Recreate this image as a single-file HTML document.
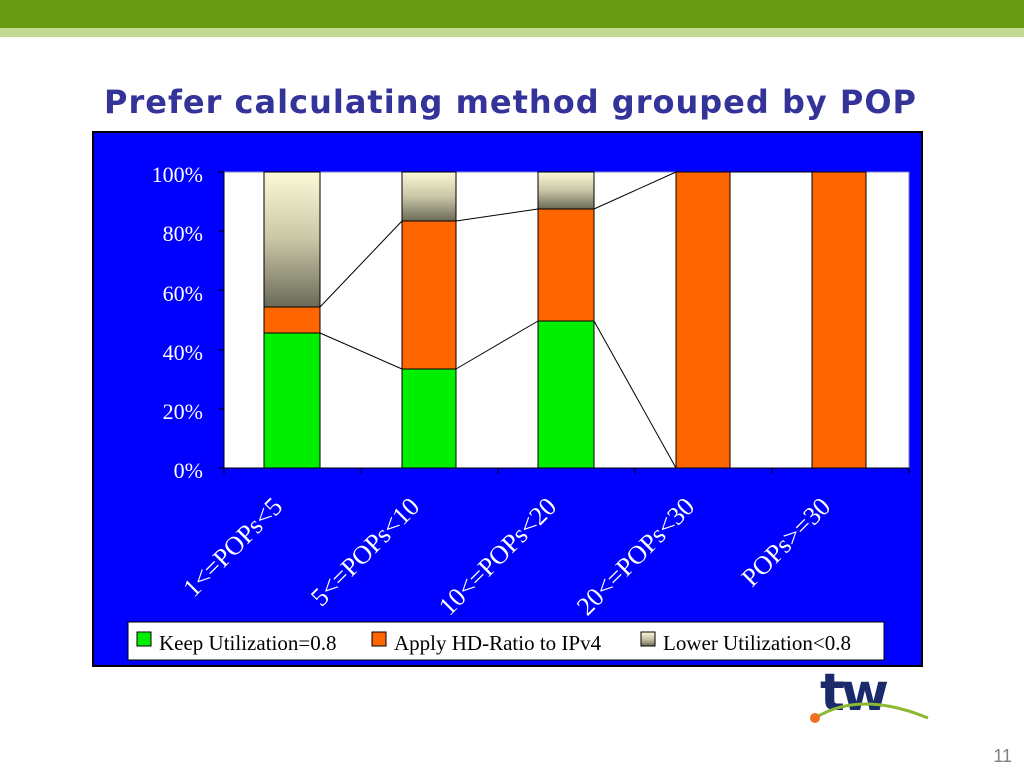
<!DOCTYPE html>
<html><head><style>
body{margin:0;width:1024px;height:768px;background:#fff;overflow:hidden;font-family:"Liberation Sans",sans-serif;}
</style></head><body>
<svg width="1024" height="768" xmlns="http://www.w3.org/2000/svg">
<defs>
<linearGradient id="g" x1="0" y1="0" x2="0" y2="1">
<stop offset="0" stop-color="#fbf9d6"/><stop offset="0.5" stop-color="#c9c6a6"/><stop offset="1" stop-color="#6b6a58"/>
</linearGradient>
</defs>
<rect x="0" y="0" width="1024" height="28" fill="#6a9a12"/>
<rect x="0" y="28" width="1024" height="9" fill="#c3d994"/>
<text x="510" y="113" text-anchor="middle" font-family="DejaVu Sans" font-weight="bold" font-size="32" fill="#333399" textLength="812">Prefer calculating method grouped by POP</text>
<rect x="93" y="132" width="829" height="534" fill="#0000ff" stroke="#000" stroke-width="2"/>
<rect x="224" y="172" width="685" height="296" fill="#fff" stroke="#8080c0"/>
<g font-family="Liberation Serif" font-size="22" fill="#fff" text-anchor="end">
<text x="203" y="182">100%</text><text x="203" y="241">80%</text><text x="203" y="301">60%</text>
<text x="203" y="360">40%</text><text x="203" y="419">20%</text><text x="203" y="478">0%</text>
</g>
<g stroke="#000" stroke-width="1">
<rect x="264" y="172" width="56" height="135" fill="url(#g)"/>
<rect x="264" y="307" width="56" height="26" fill="#ff6600"/>
<rect x="264" y="333" width="56" height="135" fill="#00ee00"/>
<rect x="402" y="172" width="54" height="49" fill="url(#g)"/>
<rect x="402" y="221" width="54" height="148" fill="#ff6600"/>
<rect x="402" y="369" width="54" height="99" fill="#00ee00"/>
<rect x="538" y="172" width="56" height="37" fill="url(#g)"/>
<rect x="538" y="209" width="56" height="112" fill="#ff6600"/>
<rect x="538" y="321" width="56" height="147" fill="#00ee00"/>
<rect x="676" y="172" width="54" height="296" fill="#ff6600"/>
<rect x="812" y="172" width="54" height="296" fill="#ff6600"/>
<path d="M320 333L402 369M456 369L538 321M594 321L676 468M320 307L402 221M456 221L538 209M594 209L676 172M730 172L812 172" fill="none"/>
<path d="M224 172V468H909M218 172H224M218 231H224M218 290H224M218 350H224M218 409H224M218 468H224M224 468V474M361 468V474M498 468V474M635 468V474M772 468V474M909 468V474" fill="none"/>
</g>
<g font-family="Liberation Serif" font-size="26" fill="#fff" text-anchor="end">
<text transform="translate(284,508) rotate(-45)">1&lt;=POPs&lt;5</text>
<text transform="translate(421,508) rotate(-45)">5&lt;=POPs&lt;10</text>
<text transform="translate(558,508) rotate(-45)">10&lt;=POPs&lt;20</text>
<text transform="translate(696,508) rotate(-45)">20&lt;=POPs&lt;30</text>
<text transform="translate(832,508) rotate(-45)">POPs&gt;=30</text>
</g>
<rect x="128" y="622" width="756" height="38" fill="#fff" stroke="#000"/>
<g stroke="#000">
<rect x="137" y="632" width="14" height="14" fill="#00ee00"/>
<rect x="372" y="632" width="14" height="14" fill="#ff6600"/>
<rect x="641" y="632" width="14" height="14" fill="url(#g)"/>
</g>
<g font-family="Liberation Serif" font-size="21" fill="#000">
<text x="159" y="650">Keep Utilization=0.8</text>
<text x="394" y="650">Apply HD-Ratio to IPv4</text>
<text x="663" y="650">Lower Utilization&lt;0.8</text>
</g>
<text x="820" y="710" font-family="DejaVu Sans" font-weight="bold" font-size="52" fill="#1a2a6a" letter-spacing="-4">tw</text>
<path d="M815 718 Q860 690 928 718" stroke="#8cb832" stroke-width="3" fill="none"/>
<circle cx="815" cy="718" r="5" fill="#f07020"/>
<text x="1012" y="762" text-anchor="end" font-family="Liberation Sans" font-size="18" fill="#808080">11</text>
</svg>
</body></html>
